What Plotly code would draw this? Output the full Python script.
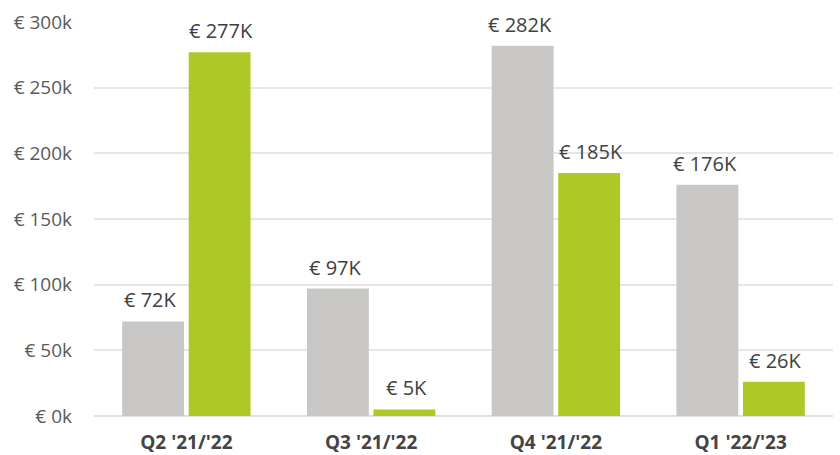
import plotly.graph_objects as go

categories = ["Q2 '21/'22", "Q3 '21/'22", "Q4 '21/'22", "Q1 '22/'23"]
grey_values = [72000, 97000, 282000, 176000]
green_values = [277000, 5000, 185000, 26000]
tick_vals = [0, 50000, 100000, 150000, 200000, 250000, 300000]
tick_text = ["€ 0k", "€ 50k", "€ 100k", "€ 150k", "€ 200k", "€ 250k", "€ 300k"]

GREY = "#c8c7c5"
GREEN = "#aec827"
FONT = "Open Sans"

fig = go.Figure()
fig.add_bar(x=categories, y=grey_values, marker_color=GREY, marker_line_width=0, name="a")
fig.add_bar(x=categories, y=green_values, marker_color=GREEN, marker_line_width=0, name="b")

def lab(v):
    return "€ %dK" % round(v / 1000)

ann = []
for c, g, gr in zip(categories, grey_values, green_values):
    ann.append(dict(x=c, y=g, text=lab(g), xshift=-35.5, yshift=6, yanchor="bottom",
                    showarrow=False, font=dict(family=FONT, size=20, color="#404040")))
    ann.append(dict(x=c, y=gr, text=lab(gr), xshift=35, yshift=6, yanchor="bottom",
                    showarrow=False, font=dict(family=FONT, size=20, color="#404040")))

fig.update_layout(
    width=840, height=455,
    margin=dict(l=94, r=7, t=22, b=39),
    paper_bgcolor="white", plot_bgcolor="white",
    barmode="group", bargap=0.28, bargroupgap=0.07,
    showlegend=False,
    annotations=ann,
    font=dict(family=FONT),
    xaxis=dict(showgrid=False, showline=False, ticks="", automargin=False,
               tickfont=dict(family=FONT, size=19, color="#444444", weight="bold"),
               ticklabelstandoff=13),
    yaxis=dict(range=[0, 300000], tickvals=tick_vals, ticktext=tick_text, automargin=False,
               showgrid=True, gridcolor="#e6e6e6", gridwidth=1.5, zeroline=True,
               zerolinecolor="#e0e0e0", zerolinewidth=1.5, showline=False,
               tickfont=dict(family=FONT, size=19, color="#595959"),
               ticklabelstandoff=21),
)

fig.write_html("out.html", config={"displayModeBar": False},
               post_script="document.body.style.margin='0';")
